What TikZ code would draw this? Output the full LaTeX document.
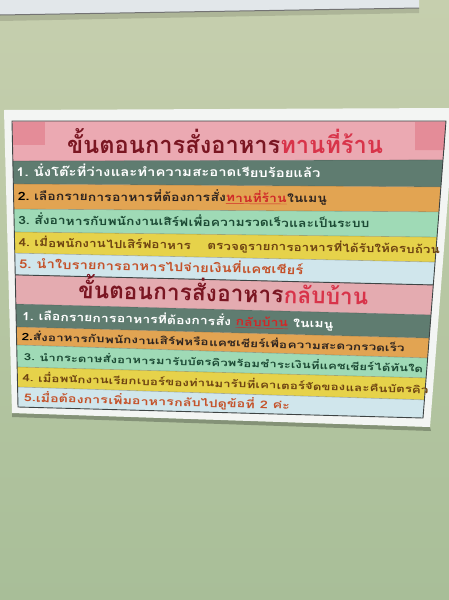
\documentclass[tikz,border=0pt]{standalone}
\usepackage{fontspec}
\setmainfont[Script=Thai]{Loma}
\usetikzlibrary{calc}
\definecolor{wallTop}{HTML}{C6CFAE}
\definecolor{wallBot}{HTML}{A8BE98}
\definecolor{stripcol}{HTML}{E2E7EA}
\definecolor{papercol}{HTML}{F3F5F3}
\definecolor{pinkA}{HTML}{EBA9B2}
\definecolor{pinkSq}{HTML}{E48C98}
\definecolor{pinkB}{HTML}{E4ABB0}
\definecolor{darkrow}{HTML}{5F7C70}
\definecolor{orangerow}{HTML}{E2A452}
\definecolor{greenrow}{HTML}{9FDAB6}
\definecolor{yellowrow}{HTML}{E6D24A}
\definecolor{bluerow}{HTML}{D0E6EC}
\definecolor{titledark}{HTML}{7A1622}
\definecolor{titlered}{HTML}{D8344A}
\definecolor{hlred}{HTML}{D02828}
\definecolor{txtdark}{HTML}{2E2420}
\definecolor{txtgreen}{HTML}{1C4A34}
\definecolor{txtbrown}{HTML}{6E4412}
\definecolor{txtorange}{HTML}{C4522A}
\definecolor{borderc}{HTML}{3E4444}
\newdimen\natw
\newsavebox\measbox
\def\vsq{0.82}\def\bsh{-4pt}\def\rc{black}
\tikzset{chunk/.style={anchor=base west, inner sep=0pt}}
% #1 row, #2 start distance, #3 target width, #4 name, #5-#8 chunks
\newcommand\rowline[8]{%
  \pgfinterruptpicture\global\setbox\measbox=\hbox{\bfseries #5#6#7#8}\endpgfinterruptpicture
  \natw=\wd\measbox
  \pgfmathsetmacro\sfx{#3/max(\natw,1)}%
  \pgfmathsetmacro\sfy{\vsq*\sfx}%
  \path let \p1=($(B#1)-(A#1)$), \n1={atan2(\y1,\x1)} in
    ($(A#1)!#2!(B#1)$) node[chunk, rotate=\n1, yshift=\bsh] (#4a) {\scalebox{\sfx}[\sfy]{\bfseries\color{\rc}#5}}
    (#4a.base east) node[chunk, rotate=\n1] (#4b) {\scalebox{\sfx}[\sfy]{\bfseries\color{\rc}#6}}
    (#4b.base east) node[chunk, rotate=\n1] (#4c) {\scalebox{\sfx}[\sfy]{\bfseries\color{\rc}#7}}
    (#4c.base east) node[chunk, rotate=\n1] (#4d) {\scalebox{\sfx}[\sfy]{\bfseries\color{\rc}#8}};}
\begin{document}
\begin{tikzpicture}[x=1pt,y=1pt]
\useasboundingbox (0,0) rectangle (449,-600);
% wall
\shade[top color=wallTop, bottom color=wallBot] (0,0) rectangle (449,-600);
% top strip (another sheet)
\fill[stripcol] (0,0) -- (419,0) -- (419,-8) -- (0,-15) -- cycle;
\fill[black, opacity=0.12] (0,-15) -- (419,-8) -- (419,-13) -- (0,-21) -- cycle;
\draw[black!55, line width=1] (0,-15) -- (419,-8);
% paper
\fill[black, opacity=0.25] (12,-413) -- (430,-427) -- (431,-431) -- (12,-417) -- cycle;
\fill[papercol] (4,-110) -- (455,-108) -- (430,-427) -- (12,-413) -- cycle;
% row boundaries
\foreach \i/\a/\b in {0/0/0, 1/.140/.131, 2/.220/.222, 3/.308/.306, 4/.388/.391,
  5/.462/.475, 6/.538/.552, 7/.640/.653, 8/.720/.731, 9/.783/.798, 10/.860/.865,
  11/.930/.939, 12/1/1}{
  \coordinate (L\i) at ($(12,-121)!\a!(18,-407)$);
  \coordinate (R\i) at ($(446,-121)!\b!(423,-418)$);
}
\foreach \i/\j/\c in {0/1/pinkA, 1/2/darkrow, 2/3/orangerow, 3/4/greenrow,
  4/5/yellowrow, 5/6/bluerow, 6/7/pinkB, 7/8/darkrow, 8/9/orangerow,
  9/10/greenrow, 10/11/yellowrow, 11/12/bluerow}{
  \fill[\c] (L\i) -- (R\i) -- (R\j) -- (L\j) -- cycle;
  \coordinate (A\j) at ($(L\i)!.5!(L\j)$);
  \coordinate (B\j) at ($(R\i)!.5!(R\j)$);
}
% darker pink squares of the first title
\fill[pinkSq] (13,-122) -- (45,-122) -- (45,-145) -- (13,-145) -- cycle;
\fill[pinkSq] (415,-122) -- (445.5,-122) -- (444.5,-150) -- (415,-150) -- cycle;
% row separators and frame
\foreach \i in {1,...,11}{ \draw[borderc, opacity=0.35, line width=0.6] (L\i) -- (R\i); }
\draw[borderc, line width=0.9] (L0) -- (R0) -- (R12) -- (L12) -- cycle;
\draw[borderc, line width=0.9] (L6) -- (R6);
% ---- section 1 ----
\node[inner sep=0pt] (ta) at ($(A1)!212.6pt!(B1)$)
  {\resizebox{316pt}{!}{\bfseries\textcolor{titledark}{ขั้นตอนการสั่งอาหาร}\textcolor{titlered}{ทานที่ร้าน}}};
\def\rc{white}
\rowline{2}{3pt}{303}{ta1}{1.~นั่งโต๊ะที่ว่าง}{และทำความ}{สะอาด}{เรียบร้อยแล้ว}
\def\rc{txtdark}
\rowline{3}{4pt}{308}{ta2}{\textcolor{black}{2.}~เลือกรายการ}{อาหารที่ต้องการ}{สั่ง\textcolor{hlred}{\underline{ทานที่ร้าน}}}{ในเมนู}
\def\rc{txtgreen}
\rowline{4}{4pt}{350}{ta3}{3.~สั่งอาหารกับ}{พนักงานเสิร์ฟ}{เพื่อความรวดเร็ว}{และเป็นระบบ}
\def\rc{txtbrown}
\rowline{5}{4pt}{420}{ta4}{4.~เมื่อพนักงาน}{ไปเสิร์ฟอาหาร}{\hspace{1.2em}ตรวจดูรายการอาหาร}{ที่ได้รับให้ครบถ้วน}
\def\rc{txtorange}
\rowline{6}{4pt}{283}{ta5}{5.~นำใบรายการ}{อาหารไปจ่าย}{เงินที่}{แคชเชียร์}
% ---- section 2 ----
\def\vsq{1}\def\bsh{-7pt}\def\rc{titledark}
\rowline{7}{62.5pt}{289}{tb}{ขั้นตอน}{การสั่ง}{อาหาร}{\textcolor{titlered}{กลับบ้าน}}
\def\vsq{0.8}\def\bsh{-4.5pt}\def\rc{white}
\rowline{8}{6pt}{310}{tb1}{1.~เลือกรายการ}{อาหารที่ต้องการ}{สั่ง~\textcolor{hlred}{\underline{กลับบ้าน}}}{~ในเมนู}
\def\vsq{0.74}\def\rc{txtdark}
\rowline{9}{5pt}{382}{tb2}{\textcolor{black}{2.}สั่งอาหารกับ}{พนักงานเสิร์ฟหรือ}{แคชเชียร์เพื่อ}{ความสะดวกรวดเร็ว}
\def\rc{txtgreen}
\rowline{10}{7pt}{398}{tb3}{3.~นำกระดาษสั่งอาหาร}{มารับบัตรคิวพร้อม}{ชำระเงินที่แคชเชียร์}{ได้ทันใด}
\def\rc{txtbrown}
\rowline{11}{5pt}{405}{tb4}{4.~เมื่อพนักงานเรียก}{เบอร์ของท่านมารับ}{ที่เคาเตอร์จัดของ}{และคืนบัตรคิว}
\def\rc{txtorange}
\rowline{12}{6pt}{265}{tb5}{5.เมื่อต้องการ}{เพิ่มอาหาร}{กลับไปดูข้อที่}{~2 ค่ะ}
\end{tikzpicture}
\end{document}
